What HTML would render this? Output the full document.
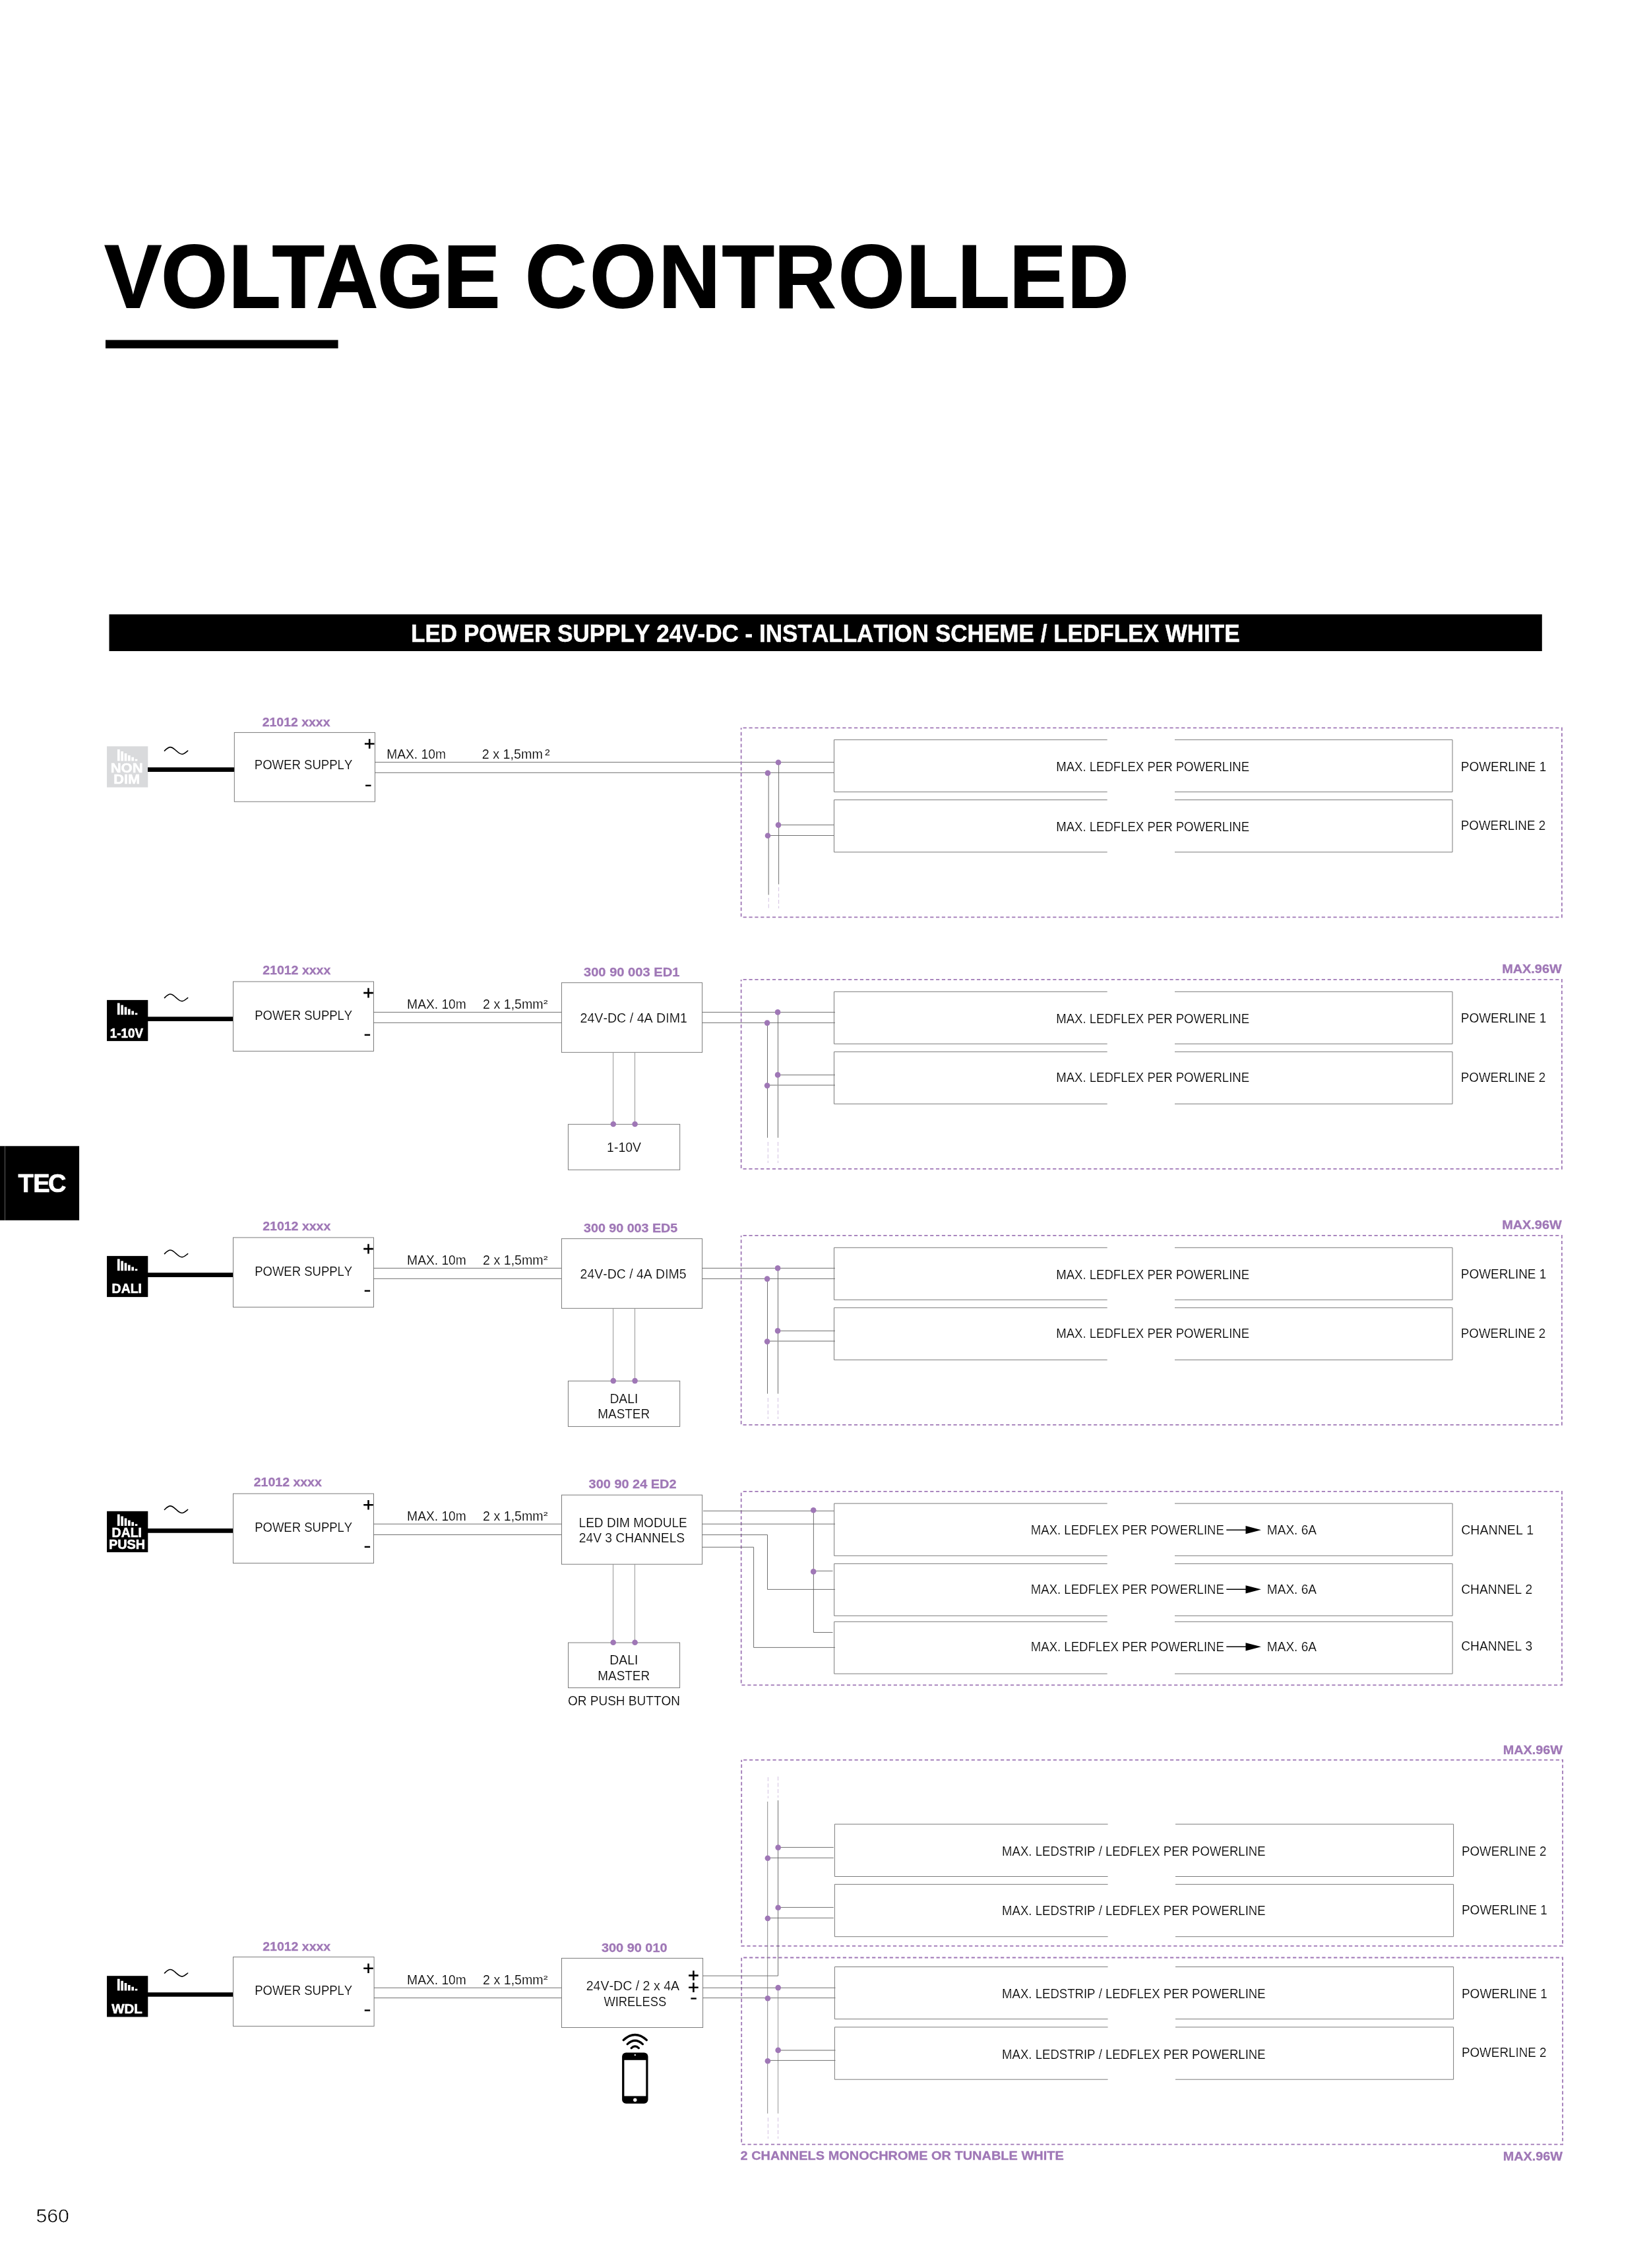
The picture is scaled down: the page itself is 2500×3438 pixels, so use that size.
<!DOCTYPE html>
<html lang="en">
<head>
<meta charset="utf-8">
<title>Voltage Controlled - LED Power Supply 24V-DC Installation Scheme</title>
<style>
html,body{margin:0;padding:0;background:#fff}
body{width:2500px;height:3438px;overflow:hidden}
svg{display:block}
text{font-family:"Liberation Sans",sans-serif;font-kerning:none;white-space:pre}
text.b{font-weight:700}
text.r{font-weight:400;stroke:#fff;stroke-width:.2px}
text.s{font-weight:400;stroke:#000;stroke-width:.05px}
text.p{font-weight:400;stroke:#fff;stroke-width:.6px}
</style>
</head>
<body>
<svg width="2500" height="3438" viewBox="0 0 2500 3438">
<rect width="2500" height="3438" fill="#fff"/>
<defs><filter id="ga" filterUnits="userSpaceOnUse" x="0" y="0" width="2500" height="3438" color-interpolation-filters="sRGB"><feOffset dx="0" dy="0"/></filter></defs>
<g filter="url(#ga)">
<text class="b" transform="translate(0 466.1) scale(0.9575 1)" font-size="135.17" fill="#000" stroke="#000" stroke-width="1.8" stroke-linejoin="miter" x="165.58 255.03 361.98 431.13 500.87 597.49 701.9 792.06 831.72 934.07 1042.71 1143.43 1225.97 1327.45 1434.67 1516.24 1598.07 1689.69">VOLTAGE CONTROLLED</text>
<rect x="160" y="515.4" width="352.6" height="12.7" fill="#000"/>
<rect x="165.5" y="931.3" width="2172.3" height="55.7" fill="#000"/>
<text class="b" transform="translate(623 973.25) scale(0.9540 1)" font-size="36.77" fill="#fff" stroke="#fff" stroke-width="0.5" stroke-linejoin="miter">LED POWER SUPPLY 24V-DC - INSTALLATION SCHEME / LEDFLEX WHITE</text>
<rect x="0" y="1737.3" width="120.1" height="112.5" fill="#000"/>
<path d="M7.5 1737.3V1849.8" stroke="#8a8a8a" stroke-width="0.7"/>
<text class="b" transform="translate(0 1806.75) scale(0.9852 1)" font-size="38.66" fill="#fff" stroke="#fff" stroke-width="0.7" stroke-linejoin="miter" x="27.87 51.12 74.13">TEC</text>
<text class="p" transform="translate(54.39 3368.7) scale(1.0129 1)" font-size="29.94" fill="#000">560</text>
<rect x="162.05" y="1131.3" width="62.25" height="62.2" fill="#d9dadc"/>
<path d="M177.95 1135.9h3.7v17.7h-3.7zM183.29 1138.9h3.7v14.7h-3.7zM188.63 1142h3.7v11.6h-3.7zM193.97 1145h3.7v8.6h-3.7zM199.31 1147.8h3.7v5.8h-3.7zM204.65 1150.8h3.7v2.8h-3.7z" fill="#fff"/>
<text class="b" transform="translate(167.73 1171.3) scale(1.0881 1)" font-size="20.2" fill="#fff" stroke="#fff" stroke-width="0.6" stroke-linejoin="miter">NON</text>
<text class="b" transform="translate(172.24 1187.5) scale(1.0778 1)" font-size="20.2" fill="#fff" stroke="#fff" stroke-width="0.6" stroke-linejoin="miter">DIM</text>
<path transform="translate(267.05 1137.9)" d="M-17.6 0.2C-14.2 -3 -12 -5.3 -9 -5.3C-5.4 -5.3 -3 -2.6 0 0C3 2.6 5.4 5.3 9 5.3C12 5.3 14.2 3 17.6 0.2" stroke="#000" stroke-width="1.6" fill="none" stroke-linecap="round"/>
<path d="M224 1166.7H355.3" stroke="#000" stroke-width="6.7"/>
<rect x="355.3" y="1110.4" width="213.2" height="104.8" fill="none" stroke="#747474" stroke-width="0.95"/>
<text class="b" transform="translate(397.68 1101.15) scale(1.0221 1)" font-size="19.04" fill="#9f77b6" stroke="#9f77b6" stroke-width="0.3" stroke-linejoin="miter">21012 xxxx</text>
<text class="r" transform="translate(385.78 1166.1) scale(0.9128 1)" font-size="20.35" fill="#000">POWER SUPPLY</text>
<path d="M552.9 1127.5H567.5M560.2 1120.2V1134.8" stroke="#000" stroke-width="2.6"/>
<path d="M554.1 1190.8H562.5" stroke="#000" stroke-width="2.4"/>
<text class="r" transform="translate(586.22 1150.4) scale(0.9381 1)" font-size="20.49" fill="#000">MAX. 10m</text>
<text class="r" transform="translate(730.7 1150.4) scale(0.9659 1)" font-size="20.49" fill="#000">2 x 1,5mm</text>
<text class="s" transform="translate(825.89 1145.1) scale(1.0983 1)" font-size="12.79" fill="#000">2</text>
<path d="M568.5 1155.4H1264.5" stroke="#606060" stroke-width="0.9"/>
<path d="M568.5 1171.3H1264.5" stroke="#606060" stroke-width="0.9"/>
<rect x="1123.65" y="1103.3" width="1244.25" height="287" fill="none" stroke="#9f77b6" stroke-width="1.8" stroke-dasharray="5.2 3.66" stroke-dashoffset="-3"/>
<path d="M1180.6 1155.4V1340.5" stroke="#606060" stroke-width="0.9"/>
<path d="M1165.3 1171.3V1356.5" stroke="#9a9a9a" stroke-width="1.5"/>
<path d="M1180.6 1345V1377" stroke="#d3c2e1" stroke-width="1" stroke-dasharray="6 3.5"/>
<path d="M1165.3 1361V1380" stroke="#d3c2e1" stroke-width="1" stroke-dasharray="6 3.5"/>
<path d="M1180.6 1250.5H1264.5" stroke="#606060" stroke-width="0.9"/>
<path d="M1165.3 1266.5H1264.5" stroke="#606060" stroke-width="0.9"/>
<circle cx="1180" cy="1155.7" r="4.3" fill="#9f77b6"/>
<circle cx="1164" cy="1171.9" r="4.3" fill="#9f77b6"/>
<circle cx="1180" cy="1250.6" r="4.3" fill="#9f77b6"/>
<circle cx="1164" cy="1266.8" r="4.3" fill="#9f77b6"/>
<path d="M1678.7 1121.4H1264.5V1200.4H1678.7M1781 1121.4H2202V1200.4H1781" stroke="#747474" stroke-width="0.95" fill="none"/>
<path d="M1678.7 1212.5H1264.5V1291.7H1678.7M1781 1212.5H2202V1291.7H1781" stroke="#747474" stroke-width="0.95" fill="none"/>
<text class="r" transform="translate(1601.18 1169.1) scale(0.9060 1)" font-size="20.49" fill="#000">MAX. LEDFLEX PER POWERLINE</text>
<text class="r" transform="translate(1601.18 1260) scale(0.9060 1)" font-size="20.49" fill="#000">MAX. LEDFLEX PER POWERLINE</text>
<text class="r" transform="translate(2214.74 1169) scale(0.9322 1)" font-size="20.35" fill="#000">POWERLINE 1</text>
<text class="r" transform="translate(2214.76 1257.7) scale(0.9231 1)" font-size="20.35" fill="#000">POWERLINE 2</text>
<rect x="162.05" y="1515.9" width="62.25" height="62.2" fill="#000"/>
<path d="M177.95 1520.5h3.7v17.7h-3.7zM183.29 1523.5h3.7v14.7h-3.7zM188.63 1526.6h3.7v11.6h-3.7zM193.97 1529.6h3.7v8.6h-3.7zM199.31 1532.4h3.7v5.8h-3.7zM204.65 1535.4h3.7v2.8h-3.7z" fill="#fff"/>
<text class="b" transform="translate(166.77 1572.8) scale(0.8919 1)" font-size="21.08" fill="#fff" stroke="#fff" stroke-width="0.6" stroke-linejoin="miter">1-10V</text>
<path transform="translate(267.05 1512.35)" d="M-17.6 0.2C-14.2 -3 -12 -5.3 -9 -5.3C-5.4 -5.3 -3 -2.6 0 0C3 2.6 5.4 5.3 9 5.3C12 5.3 14.2 3 17.6 0.2" stroke="#000" stroke-width="1.6" fill="none" stroke-linecap="round"/>
<path d="M224 1544.6H353.5" stroke="#000" stroke-width="6.7"/>
<rect x="353.5" y="1488" width="213" height="105.4" fill="none" stroke="#747474" stroke-width="0.95"/>
<text class="b" transform="translate(398.17 1477.35) scale(1.0261 1)" font-size="19.04" fill="#9f77b6" stroke="#9f77b6" stroke-width="0.3" stroke-linejoin="miter">21012 xxxx</text>
<text class="r" transform="translate(386.18 1545.9) scale(0.9097 1)" font-size="20.35" fill="#000">POWER SUPPLY</text>
<path d="M551.2 1505.1H565.8M558.5 1497.8V1512.4" stroke="#000" stroke-width="2.6"/>
<path d="M552.7 1568.8H561.1" stroke="#000" stroke-width="2.4"/>
<text class="r" transform="translate(617.12 1529.1) scale(0.9381 1)" font-size="20.49" fill="#000">MAX. 10m</text>
<text class="r" transform="translate(732.11 1529.1) scale(0.9584 1)" font-size="20.49" fill="#000">2 x 1,5mm</text>
<text class="s" transform="translate(823.77 1522.3) scale(1.3043 1)" font-size="9.59" fill="#000">2</text>
<path d="M566.5 1534.4H851.4" stroke="#606060" stroke-width="0.9"/>
<path d="M566.5 1550.3H851.4" stroke="#606060" stroke-width="0.9"/>
<rect x="851.4" y="1489.7" width="213.2" height="105.6" fill="none" stroke="#747474" stroke-width="0.95"/>
<text class="b" transform="translate(884.99 1479.85) scale(1.0572 1)" font-size="19.04" fill="#9f77b6" stroke="#9f77b6" stroke-width="0.3" stroke-linejoin="miter">300 90 003 ED1</text>
<text class="r" transform="translate(879.51 1549.8) scale(0.9584 1)" font-size="20.49" fill="#000">24V-DC / 4A DIM1</text>
<path d="M929.6 1595.3V1704.3" stroke="#8a8a8a" stroke-width="0.9"/>
<path d="M962.5 1595.3V1704.3" stroke="#8a8a8a" stroke-width="0.9"/>
<rect x="861.4" y="1704.3" width="169.3" height="69" fill="none" stroke="#747474" stroke-width="0.95"/>
<circle cx="929.8" cy="1704" r="4.3" fill="#9f77b6"/>
<circle cx="962.6" cy="1704" r="4.3" fill="#9f77b6"/>
<text class="r" transform="translate(920.12 1746.2) scale(0.9484 1)" font-size="20.49" fill="#000">1-10V</text>
<path d="M1064.6 1534.4H1266" stroke="#606060" stroke-width="0.9"/>
<path d="M1064.6 1550.4H1266" stroke="#606060" stroke-width="0.9"/>
<rect x="1123.65" y="1484.9" width="1244.25" height="286.9" fill="none" stroke="#9f77b6" stroke-width="1.8" stroke-dasharray="5.2 3.66" stroke-dashoffset="-3"/>
<path d="M1179.5 1534.4V1724.7" stroke="#606060" stroke-width="0.9"/>
<path d="M1163.5 1550.4V1724.7" stroke="#606060" stroke-width="0.9"/>
<path d="M1179.5 1731V1763" stroke="#d3c2e1" stroke-width="1" stroke-dasharray="6 3.5"/>
<path d="M1164.3 1731V1763" stroke="#d3c2e1" stroke-width="1" stroke-dasharray="6 3.5"/>
<path d="M1179.5 1629.5H1266" stroke="#606060" stroke-width="0.9"/>
<path d="M1163.5 1645.1H1266" stroke="#9a9a9a" stroke-width="1.5"/>
<circle cx="1179.1" cy="1534.4" r="4.3" fill="#9f77b6"/>
<circle cx="1163.1" cy="1550.6" r="4.3" fill="#9f77b6"/>
<circle cx="1179.1" cy="1629.4" r="4.3" fill="#9f77b6"/>
<circle cx="1163.1" cy="1645.6" r="4.3" fill="#9f77b6"/>
<path d="M1678.7 1503.3H1264.5V1582.4H1678.7M1781 1503.3H2202V1582.4H1781" stroke="#747474" stroke-width="0.95" fill="none"/>
<path d="M1678.7 1594.4H1264.5V1673.4H1678.7M1781 1594.4H2202V1673.4H1781" stroke="#747474" stroke-width="0.95" fill="none"/>
<text class="r" transform="translate(1601.18 1550.9) scale(0.9060 1)" font-size="20.49" fill="#000">MAX. LEDFLEX PER POWERLINE</text>
<text class="r" transform="translate(1601.18 1640.3) scale(0.9060 1)" font-size="20.49" fill="#000">MAX. LEDFLEX PER POWERLINE</text>
<text class="r" transform="translate(2214.74 1549.7) scale(0.9322 1)" font-size="20.35" fill="#000">POWERLINE 1</text>
<text class="r" transform="translate(2214.76 1639.9) scale(0.9231 1)" font-size="20.35" fill="#000">POWERLINE 2</text>
<text class="b" transform="translate(2277.22 1475.25) scale(1.0518 1)" font-size="18.9" fill="#9f77b6" stroke="#9f77b6" stroke-width="0.3" stroke-linejoin="miter">MAX.96W</text>
<rect x="162.05" y="1903.9" width="62.25" height="62.2" fill="#000"/>
<path d="M177.95 1908.5h3.7v17.7h-3.7zM183.29 1911.5h3.7v14.7h-3.7zM188.63 1914.6h3.7v11.6h-3.7zM193.97 1917.6h3.7v8.6h-3.7zM199.31 1920.4h3.7v5.8h-3.7zM204.65 1923.4h3.7v2.8h-3.7z" fill="#fff"/>
<text class="b" transform="translate(169.6 1959.7) scale(0.9429 1)" font-size="20.64" fill="#fff" stroke="#fff" stroke-width="0.6" stroke-linejoin="miter">DALI</text>
<path transform="translate(267.05 1900.35)" d="M-17.6 0.2C-14.2 -3 -12 -5.3 -9 -5.3C-5.4 -5.3 -3 -2.6 0 0C3 2.6 5.4 5.3 9 5.3C12 5.3 14.2 3 17.6 0.2" stroke="#000" stroke-width="1.6" fill="none" stroke-linecap="round"/>
<path d="M224 1932.6H353.5" stroke="#000" stroke-width="6.7"/>
<rect x="353.5" y="1876" width="213" height="105.4" fill="none" stroke="#747474" stroke-width="0.95"/>
<text class="b" transform="translate(398.17 1865.35) scale(1.0261 1)" font-size="19.04" fill="#9f77b6" stroke="#9f77b6" stroke-width="0.3" stroke-linejoin="miter">21012 xxxx</text>
<text class="r" transform="translate(386.18 1933.9) scale(0.9097 1)" font-size="20.35" fill="#000">POWER SUPPLY</text>
<path d="M551.2 1893.1H565.8M558.5 1885.8V1900.4" stroke="#000" stroke-width="2.6"/>
<path d="M552.7 1956.8H561.1" stroke="#000" stroke-width="2.4"/>
<text class="r" transform="translate(617.12 1917.1) scale(0.9381 1)" font-size="20.49" fill="#000">MAX. 10m</text>
<text class="r" transform="translate(732.11 1917.1) scale(0.9584 1)" font-size="20.49" fill="#000">2 x 1,5mm</text>
<text class="s" transform="translate(823.77 1910.3) scale(1.3043 1)" font-size="9.59" fill="#000">2</text>
<path d="M566.5 1922.4H851.4" stroke="#606060" stroke-width="0.9"/>
<path d="M566.5 1938.3H851.4" stroke="#606060" stroke-width="0.9"/>
<rect x="851.4" y="1877.7" width="213.2" height="105.6" fill="none" stroke="#747474" stroke-width="0.95"/>
<text class="b" transform="translate(885 1867.85) scale(1.0340 1)" font-size="19.04" fill="#9f77b6" stroke="#9f77b6" stroke-width="0.3" stroke-linejoin="miter">300 90 003 ED5</text>
<text class="r" transform="translate(879.62 1937.8) scale(0.9487 1)" font-size="20.49" fill="#000">24V-DC / 4A DIM5</text>
<path d="M929.6 1983.3V2093.4" stroke="#8a8a8a" stroke-width="0.9"/>
<path d="M962.5 1983.3V2093.4" stroke="#8a8a8a" stroke-width="0.9"/>
<rect x="861.4" y="2093.4" width="169.3" height="69" fill="none" stroke="#747474" stroke-width="0.95"/>
<circle cx="929.8" cy="2093.1" r="4.3" fill="#9f77b6"/>
<circle cx="962.6" cy="2093.1" r="4.3" fill="#9f77b6"/>
<text class="r" transform="translate(924.42 2126.8) scale(0.9407 1)" font-size="20.49" fill="#000">DALI</text>
<text class="r" transform="translate(906.25 2150) scale(0.9243 1)" font-size="20.49" fill="#000">MASTER</text>
<path d="M1064.6 1922.4H1266" stroke="#606060" stroke-width="0.9"/>
<path d="M1064.6 1938.4H1266" stroke="#606060" stroke-width="0.9"/>
<rect x="1123.65" y="1872.9" width="1244.25" height="286.9" fill="none" stroke="#9f77b6" stroke-width="1.8" stroke-dasharray="5.2 3.66" stroke-dashoffset="-3"/>
<path d="M1179.5 1922.4V2112.7" stroke="#606060" stroke-width="0.9"/>
<path d="M1163.5 1938.4V2112.7" stroke="#606060" stroke-width="0.9"/>
<path d="M1179.5 2119V2151" stroke="#d3c2e1" stroke-width="1" stroke-dasharray="6 3.5"/>
<path d="M1164.3 2119V2151" stroke="#d3c2e1" stroke-width="1" stroke-dasharray="6 3.5"/>
<path d="M1179.5 2017.5H1266" stroke="#606060" stroke-width="0.9"/>
<path d="M1163.5 2033.1H1266" stroke="#9a9a9a" stroke-width="1.5"/>
<circle cx="1179.1" cy="1922.4" r="4.3" fill="#9f77b6"/>
<circle cx="1163.1" cy="1938.6" r="4.3" fill="#9f77b6"/>
<circle cx="1179.1" cy="2017.4" r="4.3" fill="#9f77b6"/>
<circle cx="1163.1" cy="2033.6" r="4.3" fill="#9f77b6"/>
<path d="M1678.7 1891.3H1264.5V1970.4H1678.7M1781 1891.3H2202V1970.4H1781" stroke="#747474" stroke-width="0.95" fill="none"/>
<path d="M1678.7 1982.4H1264.5V2061.4H1678.7M1781 1982.4H2202V2061.4H1781" stroke="#747474" stroke-width="0.95" fill="none"/>
<text class="r" transform="translate(1601.18 1938.9) scale(0.9060 1)" font-size="20.49" fill="#000">MAX. LEDFLEX PER POWERLINE</text>
<text class="r" transform="translate(1601.18 2028.3) scale(0.9060 1)" font-size="20.49" fill="#000">MAX. LEDFLEX PER POWERLINE</text>
<text class="r" transform="translate(2214.74 1937.7) scale(0.9322 1)" font-size="20.35" fill="#000">POWERLINE 1</text>
<text class="r" transform="translate(2214.76 2027.9) scale(0.9231 1)" font-size="20.35" fill="#000">POWERLINE 2</text>
<text class="b" transform="translate(2277.22 1863.25) scale(1.0518 1)" font-size="18.9" fill="#9f77b6" stroke="#9f77b6" stroke-width="0.3" stroke-linejoin="miter">MAX.96W</text>
<rect x="162.05" y="2290.8" width="62.25" height="62.2" fill="#000"/>
<path d="M177.95 2295.4h3.7v17.7h-3.7zM183.29 2298.4h3.7v14.7h-3.7zM188.63 2301.5h3.7v11.6h-3.7zM193.97 2304.5h3.7v8.6h-3.7zM199.31 2307.3h3.7v5.8h-3.7zM204.65 2310.3h3.7v2.8h-3.7z" fill="#fff"/>
<text class="b" transform="translate(169.6 2330.4) scale(0.9633 1)" font-size="20.2" fill="#fff" stroke="#fff" stroke-width="0.6" stroke-linejoin="miter">DALI</text>
<text class="b" transform="translate(164.97 2347.5) scale(0.9689 1)" font-size="20.49" fill="#fff" stroke="#fff" stroke-width="0.6" stroke-linejoin="miter">PUSH</text>
<path transform="translate(267.05 2288.2)" d="M-17.6 0.2C-14.2 -3 -12 -5.3 -9 -5.3C-5.4 -5.3 -3 -2.6 0 0C3 2.6 5.4 5.3 9 5.3C12 5.3 14.2 3 17.6 0.2" stroke="#000" stroke-width="1.6" fill="none" stroke-linecap="round"/>
<path d="M224 2320.3H353.5" stroke="#000" stroke-width="6.7"/>
<rect x="353.5" y="2264.2" width="213" height="105.4" fill="none" stroke="#747474" stroke-width="0.95"/>
<text class="b" transform="translate(384.77 2253.45) scale(1.0251 1)" font-size="19.04" fill="#9f77b6" stroke="#9f77b6" stroke-width="0.3" stroke-linejoin="miter">21012 xxxx</text>
<text class="r" transform="translate(386.18 2321.9) scale(0.9097 1)" font-size="20.35" fill="#000">POWER SUPPLY</text>
<path d="M551.2 2281.2H565.8M558.5 2273.9V2288.5" stroke="#000" stroke-width="2.6"/>
<path d="M552.7 2344.9H561.1" stroke="#000" stroke-width="2.4"/>
<text class="r" transform="translate(617.12 2305.2) scale(0.9381 1)" font-size="20.49" fill="#000">MAX. 10m</text>
<text class="r" transform="translate(732.11 2305.2) scale(0.9584 1)" font-size="20.49" fill="#000">2 x 1,5mm</text>
<text class="s" transform="translate(823.77 2298.4) scale(1.3043 1)" font-size="9.59" fill="#000">2</text>
<path d="M566.5 2310.2H851.5" stroke="#606060" stroke-width="0.9"/>
<path d="M566.5 2326.5H851.5" stroke="#606060" stroke-width="0.9"/>
<rect x="851.5" y="2266.2" width="213.1" height="105" fill="none" stroke="#747474" stroke-width="0.95"/>
<text class="b" transform="translate(892.59 2255.65) scale(1.0474 1)" font-size="19.04" fill="#9f77b6" stroke="#9f77b6" stroke-width="0.3" stroke-linejoin="miter">300 90 24 ED2</text>
<text class="r" transform="translate(877.54 2314.8) scale(0.9374 1)" font-size="20.35" fill="#000">LED DIM MODULE</text>
<text class="r" transform="translate(877.73 2337.9) scale(0.9464 1)" font-size="20.35" fill="#000">24V 3 CHANNELS</text>
<path d="M929.5 2371.2V2490.1" stroke="#8a8a8a" stroke-width="0.9"/>
<path d="M962.4 2371.2V2490.1" stroke="#8a8a8a" stroke-width="0.9"/>
<rect x="861.5" y="2490.1" width="169.1" height="68.4" fill="none" stroke="#747474" stroke-width="0.95"/>
<circle cx="929.7" cy="2489.7" r="4.3" fill="#9f77b6"/>
<circle cx="962.6" cy="2489.7" r="4.3" fill="#9f77b6"/>
<text class="r" transform="translate(924.31 2522.7) scale(0.9498 1)" font-size="20.35" fill="#000">DALI</text>
<text class="r" transform="translate(906.35 2546.7) scale(0.9297 1)" font-size="20.35" fill="#000">MASTER</text>
<text class="r" transform="translate(860.9 2584.9) scale(0.9354 1)" font-size="20.35" fill="#000">OR PUSH BUTTON</text>
<rect x="1123.7" y="2260.9" width="1244.3" height="293.5" fill="none" stroke="#9f77b6" stroke-width="1.8" stroke-dasharray="5.2 3.66" stroke-dashoffset="-3"/>
<path d="M1066 2290.4H1264.7" stroke="#606060" stroke-width="0.9"/>
<path d="M1064.6 2310.2H1266" stroke="#606060" stroke-width="0.9"/>
<path d="M1064.6 2326.6H1163.5V2409.4H1266" stroke="#606060" stroke-width="0.9" fill="none"/>
<path d="M1064.6 2345.3H1142.6V2497.4H1266" stroke="#606060" stroke-width="0.9" fill="none"/>
<path d="M1233.4 2290.4V2474.5H1262.5" stroke="#606060" stroke-width="0.9" fill="none"/>
<path d="M1233.4 2381.4H1262.5" stroke="#606060" stroke-width="0.9"/>
<circle cx="1233.2" cy="2289.2" r="4.3" fill="#9f77b6"/>
<circle cx="1233.2" cy="2382.4" r="4.3" fill="#9f77b6"/>
<path d="M1678.7 2279.1H1264.7V2358.3H1678.7M1781 2279.1H2202.1V2358.3H1781" stroke="#747474" stroke-width="0.95" fill="none"/>
<path d="M1678.7 2370.4H1264.7V2449.3H1678.7M1781 2370.4H2202.1V2449.3H1781" stroke="#747474" stroke-width="0.95" fill="none"/>
<path d="M1678.7 2458.3H1264.7V2537.2H1678.7M1781 2458.3H2202.1V2537.2H1781" stroke="#747474" stroke-width="0.95" fill="none"/>
<text class="r" transform="translate(1562.78 2325.8) scale(0.9069 1)" font-size="20.49" fill="#000">MAX. LEDFLEX PER POWERLINE</text>
<path d="M1859.3 2319.2H1892" stroke="#000" stroke-width="1.4"/>
<path d="M1912 2319.2L1888.5 2313.1V2325.3z" fill="#000"/>
<text class="r" transform="translate(1920.84 2325.8) scale(0.9299 1)" font-size="20.49" fill="#000">MAX. 6A</text>
<text class="r" transform="translate(1562.78 2415.9) scale(0.9069 1)" font-size="20.49" fill="#000">MAX. LEDFLEX PER POWERLINE</text>
<path d="M1859.3 2409.3H1892" stroke="#000" stroke-width="1.4"/>
<path d="M1912 2409.3L1888.5 2403.2V2415.4z" fill="#000"/>
<text class="r" transform="translate(1920.84 2415.9) scale(0.9299 1)" font-size="20.49" fill="#000">MAX. 6A</text>
<text class="r" transform="translate(1562.78 2502.9) scale(0.9069 1)" font-size="20.49" fill="#000">MAX. LEDFLEX PER POWERLINE</text>
<path d="M1859.3 2496.3H1892" stroke="#000" stroke-width="1.4"/>
<path d="M1912 2496.3L1888.5 2490.2V2502.4z" fill="#000"/>
<text class="r" transform="translate(1920.84 2502.9) scale(0.9299 1)" font-size="20.49" fill="#000">MAX. 6A</text>
<text class="r" transform="translate(2215.21 2325.7) scale(0.9625 1)" font-size="20.35" fill="#000">CHANNEL 1</text>
<text class="r" transform="translate(2215.22 2415.8) scale(0.9469 1)" font-size="20.35" fill="#000">CHANNEL 2</text>
<text class="r" transform="translate(2215.22 2502) scale(0.9458 1)" font-size="20.35" fill="#000">CHANNEL 3</text>
<rect x="162.05" y="2995.2" width="62.25" height="62.2" fill="#000"/>
<path d="M177.95 2999.8h3.7v17.7h-3.7zM183.29 3002.8h3.7v14.7h-3.7zM188.63 3005.9h3.7v11.6h-3.7zM193.97 3008.9h3.7v8.6h-3.7zM199.31 3011.7h3.7v5.8h-3.7zM204.65 3014.7h3.7v2.8h-3.7z" fill="#fff"/>
<text class="b" transform="translate(169.18 3051.6) scale(0.9836 1)" font-size="20.78" fill="#fff" stroke="#fff" stroke-width="0.6" stroke-linejoin="miter">WDL</text>
<path transform="translate(267.05 2990.8)" d="M-17.6 0.2C-14.2 -3 -12 -5.3 -9 -5.3C-5.4 -5.3 -3 -2.6 0 0C3 2.6 5.4 5.3 9 5.3C12 5.3 14.2 3 17.6 0.2" stroke="#000" stroke-width="1.6" fill="none" stroke-linecap="round"/>
<path d="M224 3023.5H353.5" stroke="#000" stroke-width="6.7"/>
<rect x="353.5" y="2966.6" width="213.6" height="104.8" fill="none" stroke="#747474" stroke-width="0.95"/>
<text class="b" transform="translate(398.27 2956.75) scale(1.0231 1)" font-size="19.04" fill="#9f77b6" stroke="#9f77b6" stroke-width="0.3" stroke-linejoin="miter">21012 xxxx</text>
<text class="r" transform="translate(386.18 3024) scale(0.9097 1)" font-size="20.35" fill="#000">POWER SUPPLY</text>
<path d="M551.2 2983.7H565.8M558.5 2976.4V2991" stroke="#000" stroke-width="2.6"/>
<path d="M552.7 3047.5H561.1" stroke="#000" stroke-width="2.4"/>
<text class="r" transform="translate(617.12 3008) scale(0.9381 1)" font-size="20.49" fill="#000">MAX. 10m</text>
<text class="r" transform="translate(732.11 3008) scale(0.9584 1)" font-size="20.49" fill="#000">2 x 1,5mm</text>
<text class="s" transform="translate(823.77 3001.2) scale(1.3043 1)" font-size="9.59" fill="#000">2</text>
<path d="M567 3013.3H851.5" stroke="#606060" stroke-width="0.9"/>
<path d="M567 3028.6H851.5" stroke="#606060" stroke-width="0.9"/>
<rect x="851.5" y="2968.4" width="214.1" height="105.1" fill="none" stroke="#747474" stroke-width="0.95"/>
<text class="b" transform="translate(911.89 2958.55) scale(1.0470 1)" font-size="19.04" fill="#9f77b6" stroke="#9f77b6" stroke-width="0.3" stroke-linejoin="miter">300 90 010</text>
<text class="r" transform="translate(888.72 3017) scale(0.9619 1)" font-size="20.35" fill="#000">24V-DC / 2 x 4A</text>
<text class="r" transform="translate(915.42 3040.6) scale(0.9026 1)" font-size="20.35" fill="#000">WIRELESS</text>
<path d="M1044.1 2994.6H1058.7M1051.4 2987.3V3001.9" stroke="#000" stroke-width="2.6"/>
<path d="M1044.1 3012.8H1058.7M1051.4 3005.5V3020.1" stroke="#000" stroke-width="2.6"/>
<path d="M1047.4 3029.5H1055.8" stroke="#000" stroke-width="2.4"/>
<g fill="none" stroke="#000" stroke-width="3.3" stroke-linecap="round"><path d="M945.2 3092.5Q962.8 3076.6 980.4 3092.5"/><path d="M951.2 3098.6Q962.8 3088.0 974.4 3098.6"/><path d="M957.2 3104.6Q962.8 3099.0 968.4 3104.6"/></g>
<rect x="943.1" y="3111.4" width="39.4" height="77.4" rx="6" fill="#000"/>
<rect x="946.4" y="3122.8" width="32.9" height="54.6" fill="#fff"/>
<circle cx="962.8" cy="3115.1" r="1.2" fill="#fff"/>
<circle cx="962.8" cy="3183.2" r="2.7" fill="#fff"/>
<rect x="1124.2" y="2667.8" width="1244.9" height="282.1" fill="none" stroke="#9f77b6" stroke-width="1.8" stroke-dasharray="5.2 3.66" stroke-dashoffset="-3"/>
<rect x="1124.2" y="2967.5" width="1244.9" height="283.2" fill="none" stroke="#9f77b6" stroke-width="1.8" stroke-dasharray="5.2 3.66" stroke-dashoffset="-3"/>
<path d="M1065.6 2995.1H1179.6V2729.1" stroke="#606060" stroke-width="0.9" fill="none"/>
<path d="M1065.6 3013.3H1266.5" stroke="#606060" stroke-width="0.9"/>
<path d="M1065.6 3028.6H1266.5" stroke="#606060" stroke-width="0.9"/>
<path d="M1163.7 2731V3203.8" stroke="#7c7c7c" stroke-width="0.9"/>
<path d="M1179.6 3013.3V3203.8" stroke="#8a8a8a" stroke-width="0.9"/>
<path d="M1179.6 2693V2725" stroke="#d3c2e1" stroke-width="1" stroke-dasharray="6 3.5"/>
<path d="M1164.4 2694V2726" stroke="#d3c2e1" stroke-width="1" stroke-dasharray="6 3.5"/>
<path d="M1179.6 3210V3242" stroke="#d3c2e1" stroke-width="1" stroke-dasharray="6 3.5"/>
<path d="M1164.4 3210V3242" stroke="#d3c2e1" stroke-width="1" stroke-dasharray="6 3.5"/>
<path d="M1179.6 2800.4H1263.8" stroke="#606060" stroke-width="0.9"/>
<path d="M1163.7 2816.3H1263.8" stroke="#606060" stroke-width="0.9"/>
<path d="M1179.6 2891.4H1263.8" stroke="#606060" stroke-width="0.9"/>
<path d="M1163.7 2907.4H1263.8" stroke="#606060" stroke-width="0.9"/>
<path d="M1179.6 3107.9H1266.5" stroke="#9a9a9a" stroke-width="1.5"/>
<path d="M1163.7 3123.4H1266.5" stroke="#606060" stroke-width="0.9"/>
<circle cx="1179.7" cy="2800.6" r="4.3" fill="#9f77b6"/>
<circle cx="1163.9" cy="2816.8" r="4.3" fill="#9f77b6"/>
<circle cx="1179.7" cy="2891.8" r="4.3" fill="#9f77b6"/>
<circle cx="1163.9" cy="2908" r="4.3" fill="#9f77b6"/>
<circle cx="1179.7" cy="3013.1" r="4.3" fill="#9f77b6"/>
<circle cx="1163.9" cy="3029.3" r="4.3" fill="#9f77b6"/>
<circle cx="1179.7" cy="3107.9" r="4.3" fill="#9f77b6"/>
<circle cx="1163.9" cy="3124.3" r="4.3" fill="#9f77b6"/>
<path d="M1679.6 2765.2H1265.4V2844.5H1679.6M1782 2765.2H2203.6V2844.5H1782" stroke="#747474" stroke-width="0.95" fill="none"/>
<text class="r" transform="translate(1519.07 2813.1) scale(0.9076 1)" font-size="20.49" fill="#000">MAX. LEDSTRIP / LEDFLEX PER POWERLINE</text>
<text class="r" transform="translate(2215.96 2813) scale(0.9245 1)" font-size="20.35" fill="#000">POWERLINE 2</text>
<path d="M1679.6 2856.4H1265.4V2935.7H1679.6M1782 2856.4H2203.6V2935.7H1782" stroke="#747474" stroke-width="0.95" fill="none"/>
<text class="r" transform="translate(1519.07 2902.9) scale(0.9076 1)" font-size="20.49" fill="#000">MAX. LEDSTRIP / LEDFLEX PER POWERLINE</text>
<text class="r" transform="translate(2215.94 2902) scale(0.9345 1)" font-size="20.35" fill="#000">POWERLINE 1</text>
<path d="M1679.6 2981.5H1265.4V3060.6H1679.6M1782 2981.5H2203.6V3060.6H1782" stroke="#747474" stroke-width="0.95" fill="none"/>
<text class="r" transform="translate(1519.07 3029) scale(0.9076 1)" font-size="20.49" fill="#000">MAX. LEDSTRIP / LEDFLEX PER POWERLINE</text>
<text class="r" transform="translate(2215.94 3028.9) scale(0.9345 1)" font-size="20.35" fill="#000">POWERLINE 1</text>
<path d="M1679.6 3072.9H1265.4V3152.2H1679.6M1782 3072.9H2203.6V3152.2H1782" stroke="#747474" stroke-width="0.95" fill="none"/>
<text class="r" transform="translate(1519.07 3120.7) scale(0.9076 1)" font-size="20.49" fill="#000">MAX. LEDSTRIP / LEDFLEX PER POWERLINE</text>
<text class="r" transform="translate(2215.96 3117.8) scale(0.9245 1)" font-size="20.35" fill="#000">POWERLINE 2</text>
<text class="b" transform="translate(2278.73 2658.75) scale(1.0483 1)" font-size="18.9" fill="#9f77b6" stroke="#9f77b6" stroke-width="0.3" stroke-linejoin="miter">MAX.96W</text>
<text class="b" transform="translate(2278.73 3275.05) scale(1.0483 1)" font-size="18.9" fill="#9f77b6" stroke="#9f77b6" stroke-width="0.3" stroke-linejoin="miter">MAX.96W</text>
<text class="b" transform="translate(1122.56 3273.95) scale(1.0821 1)" font-size="18.46" fill="#9f77b6" stroke="#9f77b6" stroke-width="0.3" stroke-linejoin="miter">2 CHANNELS MONOCHROME OR TUNABLE WHITE</text>
</g>
</svg>
</body>
</html>
